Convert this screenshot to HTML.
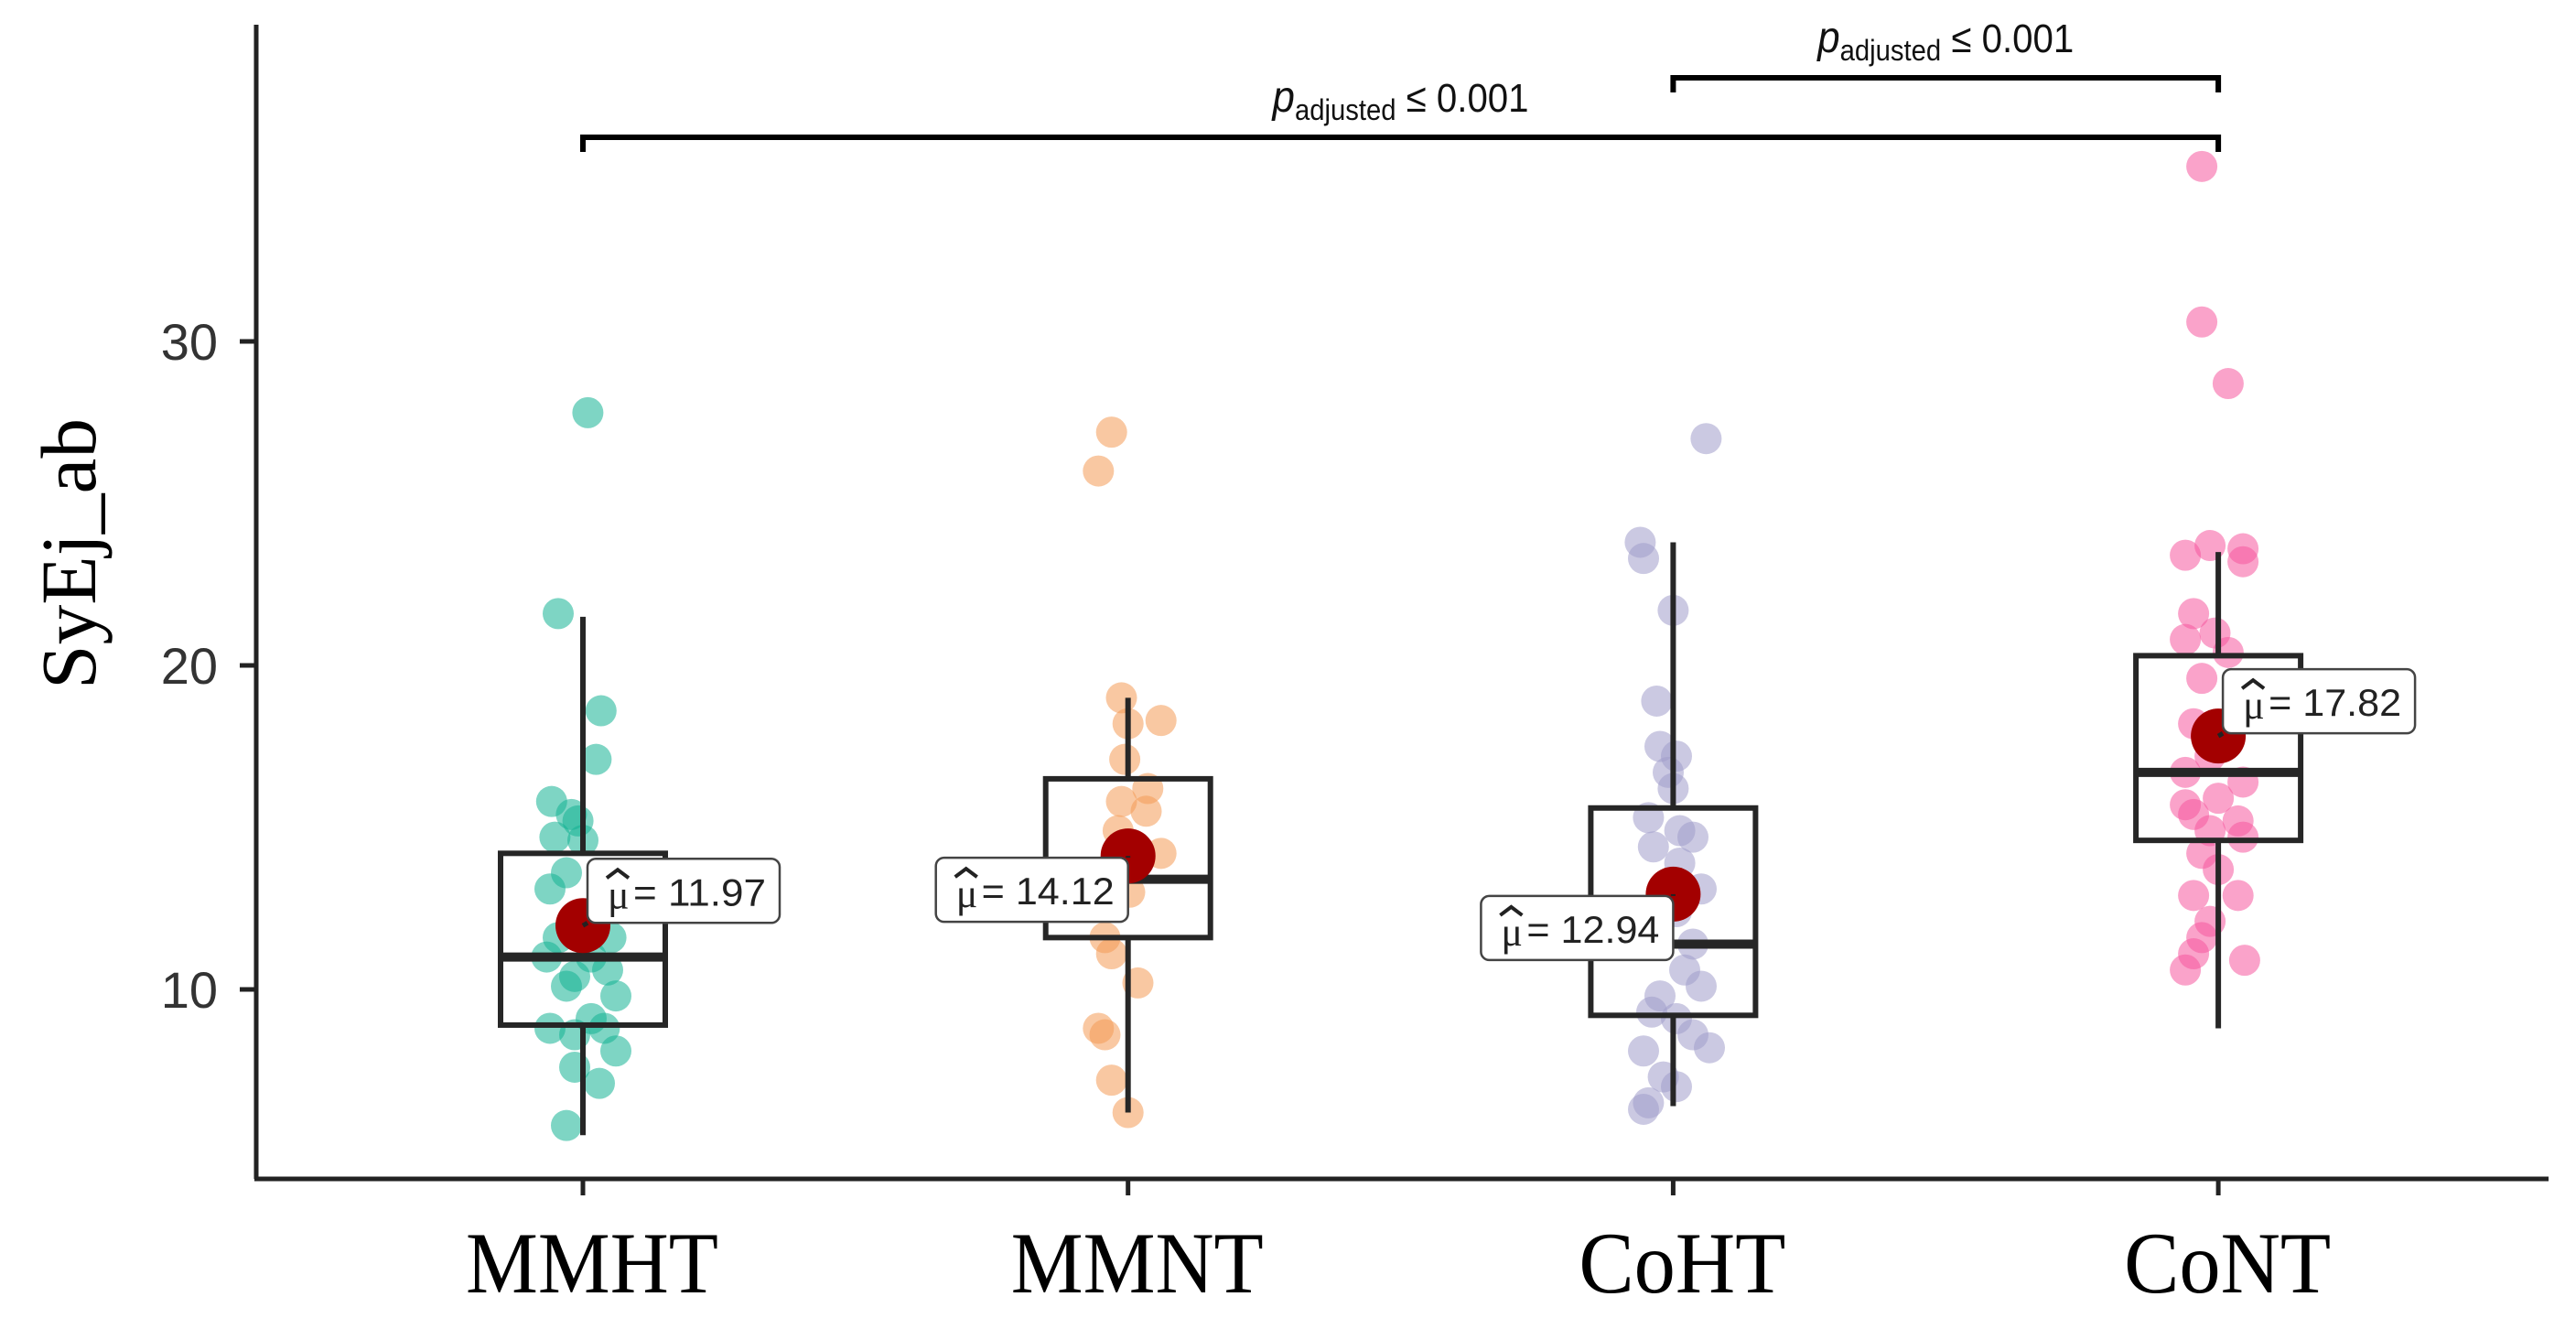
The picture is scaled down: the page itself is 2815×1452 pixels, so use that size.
<!DOCTYPE html>
<html><head><meta charset="utf-8"><style>
html,body{margin:0;padding:0;background:#fff}
svg{display:block}
</style></head><body>
<svg id="chart" width="2815" height="1452" viewBox="0 0 2815 1452" xmlns="http://www.w3.org/2000/svg"></svg>
<script>
const categories = ["MMHT","MMNT","CoHT","CoNT"];
const colors = ["#14b394","#f49a55","#a19ccb","#f6579f"];
const q1s = [8.9, 11.6, 9.2, 14.6];
const medians = [11.0, 13.4, 11.4, 16.7];
const q3s = [14.2, 16.5, 15.6, 20.3];
const whiskLow = [5.5, 6.2, 6.4, 8.8];
const whiskHigh = [21.5, 19.0, 23.8, 23.5];
const means = [11.97, 14.12, 12.94, 17.82];
const meanLabels = ["11.97","14.12","12.94","17.82"];
const yTicks = [10, 20, 30];
const valsMMHT = [27.8,21.6,18.6,17.1,15.8,15.4,15.2,14.7,14.6,13.1,13.6,11.0,11.0,10.6,10.4,9.8,10.1,9.1,8.8,8.8,8.6,8.1,7.6,7.1,5.8,11.6,11.6];
const jitMMHT = [0.06,-0.3,0.22,0.16,-0.38,-0.14,-0.06,-0.34,0,-0.4,-0.2,-0.44,0.1,0.3,-0.1,0.4,-0.2,0.1,-0.4,0.26,-0.1,0.4,-0.1,0.2,-0.2,-0.3,0.34];
const valsMMNT = [27.2,26.0,19.0,18.3,18.2,17.1,16.2,15.8,15.5,14.2,13.0,11.6,11.1,10.2,8.8,8.6,7.2,6.2,14.9];
const jitMMNT = [-0.2,-0.36,-0.08,0.4,0,-0.04,0.24,-0.08,0.22,0.4,0.02,-0.28,-0.2,0.12,-0.36,-0.28,-0.2,0,-0.12];
const valsCoHT = [27.0,23.8,23.3,21.7,18.9,17.5,17.2,16.7,16.2,15.3,14.9,14.4,14.7,13.9,13.1,12.4,11.4,10.6,10.1,9.8,9.3,9.1,8.6,8.2,8.1,7.3,7.0,6.5,6.3];
const jitCoHT = [0.4,-0.4,-0.36,0,-0.2,-0.16,0.04,-0.06,0,-0.3,0.08,-0.24,0.24,0.08,0.34,0.04,0.24,0.14,0.34,-0.16,-0.26,0.04,0.24,0.44,-0.36,-0.12,0.04,-0.3,-0.36];
const valsCoNT = [35.4,30.6,28.7,23.4,23.7,23.6,23.2,21.6,21.0,20.8,20.4,19.6,18.2,17.2,16.7,16.4,15.9,15.7,15.4,15.2,14.9,14.7,14.2,13.7,12.9,12.9,12.1,11.6,11.1,10.9,10.6];
const jitCoNT = [-0.2,-0.2,0.12,-0.4,-0.1,0.3,0.3,-0.3,-0.04,-0.4,0.12,-0.2,-0.3,-0.1,-0.4,0.3,0,-0.4,-0.3,0.24,-0.1,0.3,-0.2,0,-0.3,0.24,-0.1,-0.2,-0.3,0.32,-0.4];
const pointVals = [valsMMHT, valsMMNT, valsCoHT, valsCoNT];
const pointJit = [jitMMHT, jitMMNT, jitCoHT, jitCoNT];
const comparisons = [[0,3],[2,3]];

const NS = "http://www.w3.org/2000/svg";
const svg = document.getElementById('chart');
const X0 = 280, Y0 = 1288;
function xScale(i){ return 637 + i*595.7; }
function yScale(v){ return 1081 - (v-10)*35.4; }
const halfW = 90;
function el(tag, attrs, parent){
  const e = document.createElementNS(NS, tag);
  for (const k in attrs) e.setAttribute(k, attrs[k]);
  (parent||svg).appendChild(e);
  return e;
}
let a = el('line',{x1:X0,y1:27,x2:X0,y2:Y0,stroke:'#222','stroke-width':5});
 
a = el('line',{x1:X0-2,y1:Y0,x2:2785,y2:Y0,stroke:'#222','stroke-width':5});
 
yTicks.forEach(t=>{
  const y = yScale(t);
  const tk = el('line',{x1:X0-18,y1:y,x2:X0,y2:y,stroke:'#222','stroke-width':5});
   
  const tl = el('text',{x:X0-42,y:y+20,'text-anchor':'end','font-family':'Liberation Sans, sans-serif','font-size':56,fill:'#333'});
  tl.textContent = t;
   
});
const yt = el('text',{x:0,y:0,transform:'translate(104,605) rotate(-90)','text-anchor':'middle','font-family':'Liberation Serif, serif','font-size':86,fill:'#000',textLength:296,lengthAdjust:'spacingAndGlyphs'});
yt.textContent = 'SyEj_ab';
 

categories.forEach((c,i)=>{
  const x = xScale(i);
  const tk = el('line',{x1:x,y1:Y0,x2:x,y2:Y0+18,stroke:'#222','stroke-width':5});
   
  const tl = el('text',{x:x+10,y:1412,'text-anchor':'middle','font-family':'Liberation Serif, serif','font-size':95,fill:'#000',textLength:c[0]==='M'?276:226,lengthAdjust:'spacingAndGlyphs'});
  tl.textContent = c;
   
});
pointVals.forEach((vals,i)=>{
  const g = el('g',{});
   
  vals.forEach((v,j)=>{
    const p = el('circle',{cx:xScale(i)+pointJit[i][j]*halfW,cy:yScale(v),r:17,fill:colors[i],'fill-opacity':0.55},g);
     
  });
});
categories.forEach((c,i)=>{
  const x = xScale(i);
  const g = el('g',{stroke:'#262626','stroke-width':6,fill:'none'});
   
  el('line',{x1:x,y1:yScale(whiskHigh[i]),x2:x,y2:yScale(q3s[i])},g);
  el('line',{x1:x,y1:yScale(q1s[i]),x2:x,y2:yScale(whiskLow[i])},g);
  el('rect',{x:x-halfW,y:yScale(q3s[i]),width:2*halfW,height:yScale(q1s[i])-yScale(q3s[i])},g);
  el('line',{x1:x-halfW,y1:yScale(medians[i]),x2:x+halfW,y2:yScale(medians[i]),'stroke-width':10},g);
});
const labelSide = [1,-1,-1,1];
categories.forEach((c,i)=>{
  const x = xScale(i), y = yScale(means[i]);
  const m = el('circle',{cx:x,cy:y,r:30,fill:'#a30000'});
   
  const w = 210, h = 70;
  const bx = labelSide[i]>0 ? x+5 : x-w;
  const by = labelSide[i]>0 ? y-h-3 : y+2;
  const lg = el('g',{});
   
  el('line',{x1:x,y1:y,x2:labelSide[i]>0?bx:bx+w,y2:labelSide[i]>0?by+h:by,stroke:'#222','stroke-width':5},lg);
  el('rect',{x:bx,y:by,width:w,height:h,rx:9,fill:'#fff',stroke:'#444','stroke-width':2.5},lg);
  const mu = el('text',{x:bx+22,y:by+54,'font-family':'Liberation Serif, serif','font-size':44,fill:'#222'},lg);
  mu.textContent = 'μ';
  const hat = el('path',{d:`M${bx+21},${by+21} L${bx+33},${by+12} L${bx+45},${by+21}`,fill:'none',stroke:'#222','stroke-width':4},lg);
  const t = el('text',{x:bx+50,y:by+51,'font-family':'Liberation Sans, sans-serif','font-size':42,fill:'#222',textLength:145,lengthAdjust:'spacingAndGlyphs'},lg);
  t.textContent = '= '+meanLabels[i];
});
comparisons.forEach((cp,k)=>{
  const x1 = xScale(cp[0]), x2 = xScale(cp[1]);
  const y = k===0 ? 150 : 85;
  const g = el('g',{});
   
  el('path',{d:`M${x1},${y+16} L${x1},${y} L${x2},${y} L${x2},${y+16}`,fill:'none',stroke:'#000','stroke-width':6},g);
  const cx = (x1+x2)/2;
  const t = el('text',{x:cx,y:y-28,'text-anchor':'middle','font-family':'Liberation Sans, sans-serif','font-size':44,fill:'#111'},g);
  t.innerHTML = '<tspan font-style="italic" font-size="48">p</tspan><tspan font-size="32" dy="9">adjusted</tspan><tspan dy="-9"> ≤ 0.001</tspan>';
  t.setAttribute('textLength', 280);
  t.setAttribute('lengthAdjust','spacingAndGlyphs');
});
</script>
</body></html>
